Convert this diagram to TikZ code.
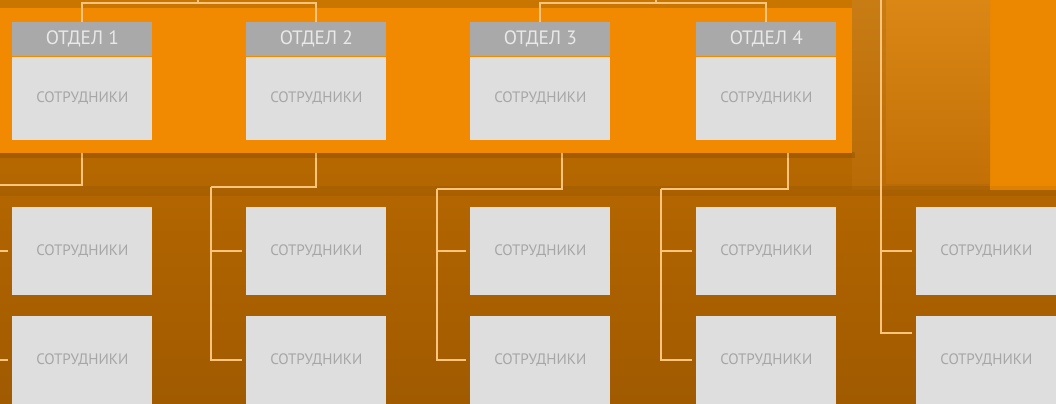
\documentclass[tikz,border=0pt]{standalone}
\usepackage{fontspec}
\setmainfont{PT Sans}
\usepackage{xcolor}
\usepackage{tikz}
\usetikzlibrary{positioning}

\definecolor{panelorange}{HTML}{F18A00}
\definecolor{brightorange}{HTML}{EC8800}
\definecolor{striporange}{HTML}{C87600}
\definecolor{midtop}{HTML}{DA8716}
\definecolor{midbottom}{HTML}{C27006}
\definecolor{lowtop}{HTML}{C47000}
\definecolor{lowbottom}{HTML}{A05A00}
\definecolor{hdrgray}{HTML}{A9A9A9}
\definecolor{hdrtext}{HTML}{E9E9E9}
\definecolor{boxgray}{HTML}{DEDEDE}
\definecolor{txtgray}{HTML}{A6A6A6}
\definecolor{linkcol}{HTML}{FFC47C}

\tikzset{
  hdr/.style={fill=hdrgray,text=hdrtext,minimum width=2.8cm,minimum height=0.68cm,
    inner sep=0pt,font=\fontsize{11}{13}\selectfont},
  staff/.style={fill=boxgray,text=txtgray,minimum width=2.8cm,minimum height=1.76cm,
    inner sep=0pt,font=\fontsize{8.6}{10}\selectfont},
  link/.style={draw=linkcol,line width=1.1pt},
  branch/.style={link,shorten >=2pt}
}

\begin{document}
\begin{tikzpicture}[x=0.02cm,y=-0.02cm]
  \def \W {1056}
  \def \H {404}
  \def \PX {852}
  \useasboundingbox (0,0) rectangle (\W,\H);
  \clip (0,0) rectangle (\W,\H);

  % background
  \fill[top color=lowtop,bottom color=lowbottom] (0,0) rectangle (\W,\H);
  \fill[top color=midtop!92!black,bottom color=midbottom!95!black] (\PX,0) rectangle (990,190);
  \fill[brightorange] (990,0) rectangle (\W,190);
  \fill[top color=midtop,bottom color=midbottom] (886,0) rectangle (990,184);
  \fill[striporange] (0,0) rectangle (\PX,8);
  \fill[black,opacity=0.06] (0,186) rectangle (\W,196);

  % lower boxes
  \foreach \i/\x in {1/12,2/246,3/470,4/696,5/916} {
    \node[staff,anchor=north west] (s\i a) at (\x,207) {СОТРУДНИКИ};
    \node[staff,anchor=north west] (s\i b) at (\x,316) {СОТРУДНИКИ};
  }

  % upper boxes
  \foreach \i/\x in {1/12,2/246,3/470,4/696} {
    \node[hdr,anchor=north west] (h\i) at (\x,22) {ОТДЕЛ \i};
    \node[staff,minimum height=1.66cm,below=0pt of h\i] (d\i) {СОТРУДНИКИ};
  }

  \coordinate (j1) at (-6,185);
  \coordinate (j2) at (211,187);
  \coordinate (j3) at (437,189);
  \coordinate (j4) at (661,189);
  \coordinate (top5) at (881,0);

  % links below the panel
  \draw[link] (d1.south) |- (j1);
  \draw[link] (d2.south) |- (j2);
  \draw[link] ([xshift=0.44cm]d3.south) |- (j3);
  \draw[link] ([xshift=0.44cm]d4.south) |- (j4);
  \foreach \i in {1,2,3,4} {
    \draw[branch] (j\i) |- (s\i a.west);
    \draw[branch] (j\i) |- (s\i b.west);
  }
  \draw[branch] (top5) |- (s5a.west);
  \draw[branch] (top5) |- ([yshift=0.54cm]s5b.west);

  % panel
  \fill[black,opacity=0.1] (0,152) rectangle (\PX+3,158);
  \fill[panelorange] (0,8) rectangle (\PX,153);

  % redraw boxes on the panel
  \foreach \i in {1,2,3,4} {
    \node[hdr,anchor=north west] at (h\i.north west) {ОТДЕЛ \i};
    \node[staff,minimum height=1.66cm,anchor=north] at (d\i.north) {СОТРУДНИКИ};
  }

  % links above
  \coordinate (t12) at (198,3);
  \coordinate (t34) at (656,3);
  \draw[link] (h1.north) |- (t12) -| (h2.north);
  \draw[link] (h3.north) |- (t34) -| (h4.north);
  \draw[link] (t12) -- ++(0,-5);
  \draw[link] (t34) -- ++(0,-5);

\end{tikzpicture}
\end{document}
